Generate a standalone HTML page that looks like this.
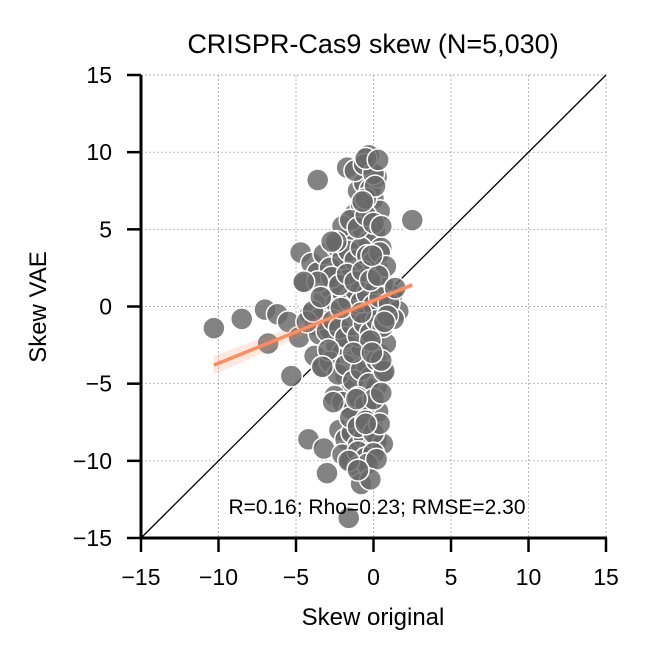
<!DOCTYPE html>
<html><head><meta charset="utf-8"><style>
body{margin:0;background:#fff;}
svg text{font-family:"Liberation Sans",sans-serif;fill:#000;}
</style></head><body>
<svg id="chart" width="650" height="660">
<text x="373" y="53" font-size="27" text-anchor="middle">CRISPR-Cas9 skew (N=5,030)</text>
<g id="grid"></g>
<g id="diag"></g>
<g id="pts"></g>
<g id="fit"></g>
<g id="axes"></g>
<text x="377" y="514" font-size="21" text-anchor="middle">R=0.16; Rho=0.23; RMSE=2.30</text>
<text x="373" y="625" font-size="24" text-anchor="middle">Skew original</text>
<text transform="translate(46,307) rotate(-90)" font-size="24" text-anchor="middle">Skew VAE</text>
</svg>
<script>
const ticks=[-15,-10,-5,0,5,10,15];
const tickLabels=["\u221215","\u221210","\u22125","0","5","10","15"];
const xs=[-10.3,-8.5,-7,-6.8,-5.3,-4.2,-3.6,-3,-3.2,-1.6,-1.7,-0.3,2.5,-4.7,-4.5,-6.2,-5.5,-4.8,-4.1,-3.8,-3.5,-3.1,-2.8,-2.5,-2.2,-1.9,-1.5,-1.2,-0.9,-0.6,-0.3,0,0.3,0.6,0.9,1.2,
-2.6,-2.2,-1.8,-1.4,-1,-0.6,-0.2,0.2,0.6,-2.4,-2,-1.6,-1.2,-0.8,-0.4,0,0.4,0.8,
-1.9,-1.5,-1.1,-0.7,-0.3,0.1,0.5,-1.8,-1.4,-1,-0.6,-0.2,0.2,0.6,-1.2,-0.8,-0.4,0,0.4,
-1,-0.6,-0.2,0.2,-1.3,-0.9,-0.5,-0.1,0.3,-2.2,-1.8,-1.4,-1,-0.6,-0.2,0.2,0.6,
-3.2,-2.8,-2.4,-2,-1.6,-1.2,-0.8,-0.4,0,0.4,-3.5,-3,-2.6,-2.2,-1.8,-1.4,-1,-0.6,-0.2,0.2,0.6,
-4,-3.6,-3.2,-2.8,-2.4,-2,-1.6,-1.2,-0.8,-0.4,0,0.4,0.8,-3.8,-3.3,-2.8,-2.3,-1.8,-1.3,-0.8,-0.3,0.2,0.7,
-2.5,-2,-1.5,-1,-0.5,0,0.5,-2,-1.5,-1,-0.5,0,0.5,-1.5,-1,-0.5,0,0.4,-2.7,-2.2,-1.7,-1.2,-0.7,-0.2,0.3,
-2,-1.5,-1,-0.5,0,-1.2,-0.6,0,-1,-0.4,0.2,-0.8,-0.2,-3.6,-2.4,-2.6,-1.1,-0.5,-1.6,-1,-0.5,0.1,1.6,1.3,-0.5,0.3,-0.7,-0.1,
-4.3,-3.9,-4.5,-3.4,-2.9,1.0,1.4,0.9,-0.2,0.5,-1.3,-2.1,-0.8,-0.1,0.7,-3.3,-2.7];
const ys=[-1.4,-0.8,-0.2,-2.4,-4.5,-8.6,8.2,-10.8,-9.2,-13.7,9,9.8,5.6,3.5,1.5,-0.5,-1,-2,-0.5,-1.2,-1.8,-0.4,-1.5,-0.3,-1,-0.1,-0.7,0.2,-0.5,0.4,0,0.6,0.3,0.9,0.2,0.7,
2,2.6,1.8,2.4,1.5,2.2,1.2,2.8,1.5,-2.5,-3,-2.2,-3.4,-2.6,-3.8,-2.1,-3.1,-2.4,
4,4.5,3.6,5,4.2,4.8,3.8,-4.5,-5,-4.2,-5.5,-4.6,-5.2,-4.3,6,6.6,5.8,7,6.2,
7.5,8,7.6,8.4,-6.5,-7,-6.2,-7.5,-6.8,-8,-8.6,-8.2,-9,-8.5,-9.2,-8.7,-8.9,
0.5,1.2,0.2,0.9,0.4,1.1,0.3,0.8,0.1,0.6,-0.8,-1.6,-0.9,-1.4,-2,-1.2,-1.9,-1.1,-1.7,-0.9,-1.3,
2.8,2.2,3.4,2.5,3.9,3.1,3.6,3,3.8,3.3,2.9,3.5,2.6,-3.2,-4,-3.6,-4.4,-3.8,-4.8,-4.1,-5,-3.5,-4.2,
-5.8,-6.2,-6.6,-5.9,-6.4,-6,-5.6,5.2,5.6,5.1,5.9,5.4,5.2,-7.2,-7.8,-7.4,-8.2,-7.6,1.9,1.4,2.1,1.6,2.3,1.7,2,
-9.6,-10,-9.4,-9.8,-9.5,8.8,9.2,8.6,-10.4,-10.2,-9.9,-11.5,-11.2,1.6,4.2,-6.2,-6,-7.6,-10,-10.6,7,7.8,-0.3,-0.8,9.6,9.5,6.8,3.3,
-1.0,-0.3,1.6,0.6,-2.8,0.2,1.2,-0.6,-2.2,-3.5,-3.0,-0.1,-0.4,-3.0,-1.0,-3.9,4.2];
const fitX=[-10.3,2.5];
const fitY=[-3.8,1.4];
const ns="http://www.w3.org/2000/svg";
const X0=141,X1=606,Y0=538,Y1=75;
const sx=v=>X0+(v+15)/30*(X1-X0);
const sy=v=>Y0-(v+15)/30*(Y0-Y1);
function mk(tag,attrs,parent){const e=document.createElementNS(ns,tag);for(const k in attrs)e.setAttribute(k,attrs[k]);parent.appendChild(e);return e;}
const grid=document.getElementById('grid'),axes=document.getElementById('axes');
ticks.forEach((t,i)=>{
  const gx=mk('line',{x1:sx(t),x2:sx(t),y1:Y1,y2:Y0,stroke:'#999','stroke-width':0.7,'stroke-dasharray':'2,2'},grid);
  
  
  const gy=mk('line',{x1:X0,x2:X1,y1:sy(t),y2:sy(t),stroke:'#999','stroke-width':0.7,'stroke-dasharray':'2,2'},grid);
  
  
  const tx=mk('line',{x1:sx(t),x2:sx(t),y1:Y0,y2:Y0+14,stroke:'#000','stroke-width':2.5},axes);
  
  
  const lx=mk('text',{x:sx(t),y:Y0+47,'font-size':23,'text-anchor':'middle'},axes);
  lx.textContent=tickLabels[i];
  
  
  const ty=mk('line',{x1:X0-14,x2:X0,y1:sy(t),y2:sy(t),stroke:'#000','stroke-width':2.5},axes);
  
  
  const ly=mk('text',{x:X0-29,y:sy(t)+8,'font-size':23,'text-anchor':'end'},axes);
  ly.textContent=tickLabels[i];
  
  
});
const ax=mk('line',{x1:X0-1,x2:X1+1,y1:Y0,y2:Y0,stroke:'#000','stroke-width':3},axes);


const ay=mk('line',{x1:X0,x2:X0,y1:Y1,y2:Y0+1,stroke:'#000','stroke-width':3},axes);


const d=mk('line',{x1:sx(-15),y1:sy(-15),x2:sx(15),y2:sy(15),stroke:'#000','stroke-width':1.3},document.getElementById('diag'));


const pts=document.getElementById('pts');
xs.forEach((x,i)=>{
  const c=mk('circle',{cx:sx(x),cy:sy(ys[i]),r:11,fill:'#686868','fill-opacity':0.82,stroke:'#fff','stroke-width':1.5},pts);
  
  
});
const fit=document.getElementById('fit');
const band=mk('polygon',{points:`${sx(fitX[0])},${sy(fitY[0]-0.6)} ${sx(fitX[1])},${sy(fitY[1]-0.15)} ${sx(fitX[1])},${sy(fitY[1]+0.15)} ${sx(fitX[0])},${sy(fitY[0]+0.6)}`,fill:'#fc8d62','fill-opacity':0.2},fit);


const fl=mk('line',{x1:sx(fitX[0]),y1:sy(fitY[0]),x2:sx(fitX[1]),y2:sy(fitY[1]),stroke:'#fc8d62','stroke-width':3.5},fit);


</script>
</body></html>
